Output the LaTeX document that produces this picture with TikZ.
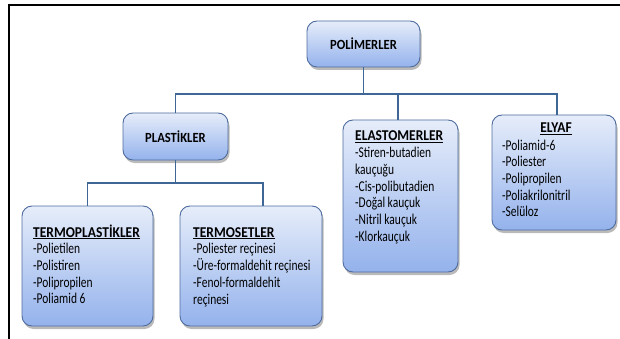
\documentclass[tikz,border=0pt]{standalone}
\usepackage{fontspec}
\setmainfont{Carlito}[UprightFeatures={FakeStretch=0.765}, BoldFeatures={FakeStretch=0.9}]
\usetikzlibrary{shadows}
\definecolor{boxtop}{HTML}{E6EDFA}
\definecolor{boxbot}{HTML}{94B2EC}
\definecolor{boxline}{HTML}{4F6C9E}
\definecolor{conn}{HTML}{3F6796}
\tikzset{
  box/.style={draw=boxline, line width=0.9pt, rounded corners=10pt,
    top color=boxtop, bottom color=boxbot, inner sep=0pt,
    drop shadow={shadow xshift=1.5pt, shadow yshift=-3pt, fill=black!60, opacity=0.45}},
  title/.style={font=\fontsize{14}{16.7}\selectfont\bfseries, inner sep=0pt},
  list/.style={font=\fontsize{15}{16.7}\selectfont, inner sep=0pt, anchor=base west},
  conline/.style={draw=conn, line width=1.7pt}
}
\newcommand{\hd}[1]{\underline{\textbf{#1}}}
\begin{document}
\begin{tikzpicture}[x=1pt,y=-1pt]
\useasboundingbox (0,0) rectangle (620,339);
\draw[line width=1.2pt] (9,339) -- (9,5) -- (620,5);
% boxes
\node[box, minimum width=113pt, minimum height=46pt] (pol) at (363.5,44) {};
\node[box, minimum width=105pt, minimum height=47pt] (pla) at (175.5,136.5) {};
\node[box, minimum width=131pt, minimum height=120pt] (tp) at (87.5,266) {};
\node[box, minimum width=142pt, minimum height=120pt] (ts) at (251,266) {};
\node[box, minimum width=115pt, minimum height=152pt] (ela) at (400.5,196) {};
\node[box, minimum width=124pt, minimum height=115pt] (ely) at (554,172.5) {};
% connectors
\coordinate (bus) at (363.5,94);
\coordinate (bus2) at (176,183);
\draw[conline] (pol.south) -- (pol.south |- bus);
\draw[conline] (pla.north) -- (pla.north |- bus) -- ([xshift=3pt]ely.north |- bus) -- ([xshift=3pt]ely.north);
\draw[conline] ([xshift=-2.5pt]ela.north) -- ([xshift=-2.5pt]ela.north |- bus);
\draw[conline] (pla.south) -- (pla.south |- bus2);
\draw[conline] (tp.north) -- (tp.north |- bus2) -- ([xshift=12pt]ts.north |- bus2) -- ([xshift=12pt]ts.north);
% texts
\node[title] (polt) at (pol.center) {POLİMERLER};
\node[title] (plat) at (pla.center) {PLASTİKLER};
\node[list] (tpt) at (33,237) {\begin{tabular}[t]{@{}l@{}}\hd{TERMOPLASTİKLER}\\-Polietilen\\-Polistiren\\-Polipropilen\\-Poliamid 6\end{tabular}};
\node[list] (tst) at (193,237) {\begin{tabular}[t]{@{}l@{}}\hd{TERMOSETLER}\\-Poliester reçinesi\\-Üre-formaldehit reçinesi\\-Fenol-formaldehit\\reçinesi\end{tabular}};
\node[list] (elat) at (355,141) {\begin{tabular}[t]{@{}l@{}}\hd{ELASTOMERLER}\\-Stiren-butadien\\kauçuğu\\-Cis-polibutadien\\-Doğal kauçuk\\-Nitril kauçuk\\-Klorkauçuk\end{tabular}};
\node[list, anchor=base] (elyh) at (556,133) {\hd{ELYAF}};
\node[list] (elyt) at (502,150) {\begin{tabular}[t]{@{}l@{}}-Poliamid-6\\-Poliester\\-Polipropilen\\-Poliakrilonitril\\-Selüloz\end{tabular}};
\end{tikzpicture}
\end{document}
